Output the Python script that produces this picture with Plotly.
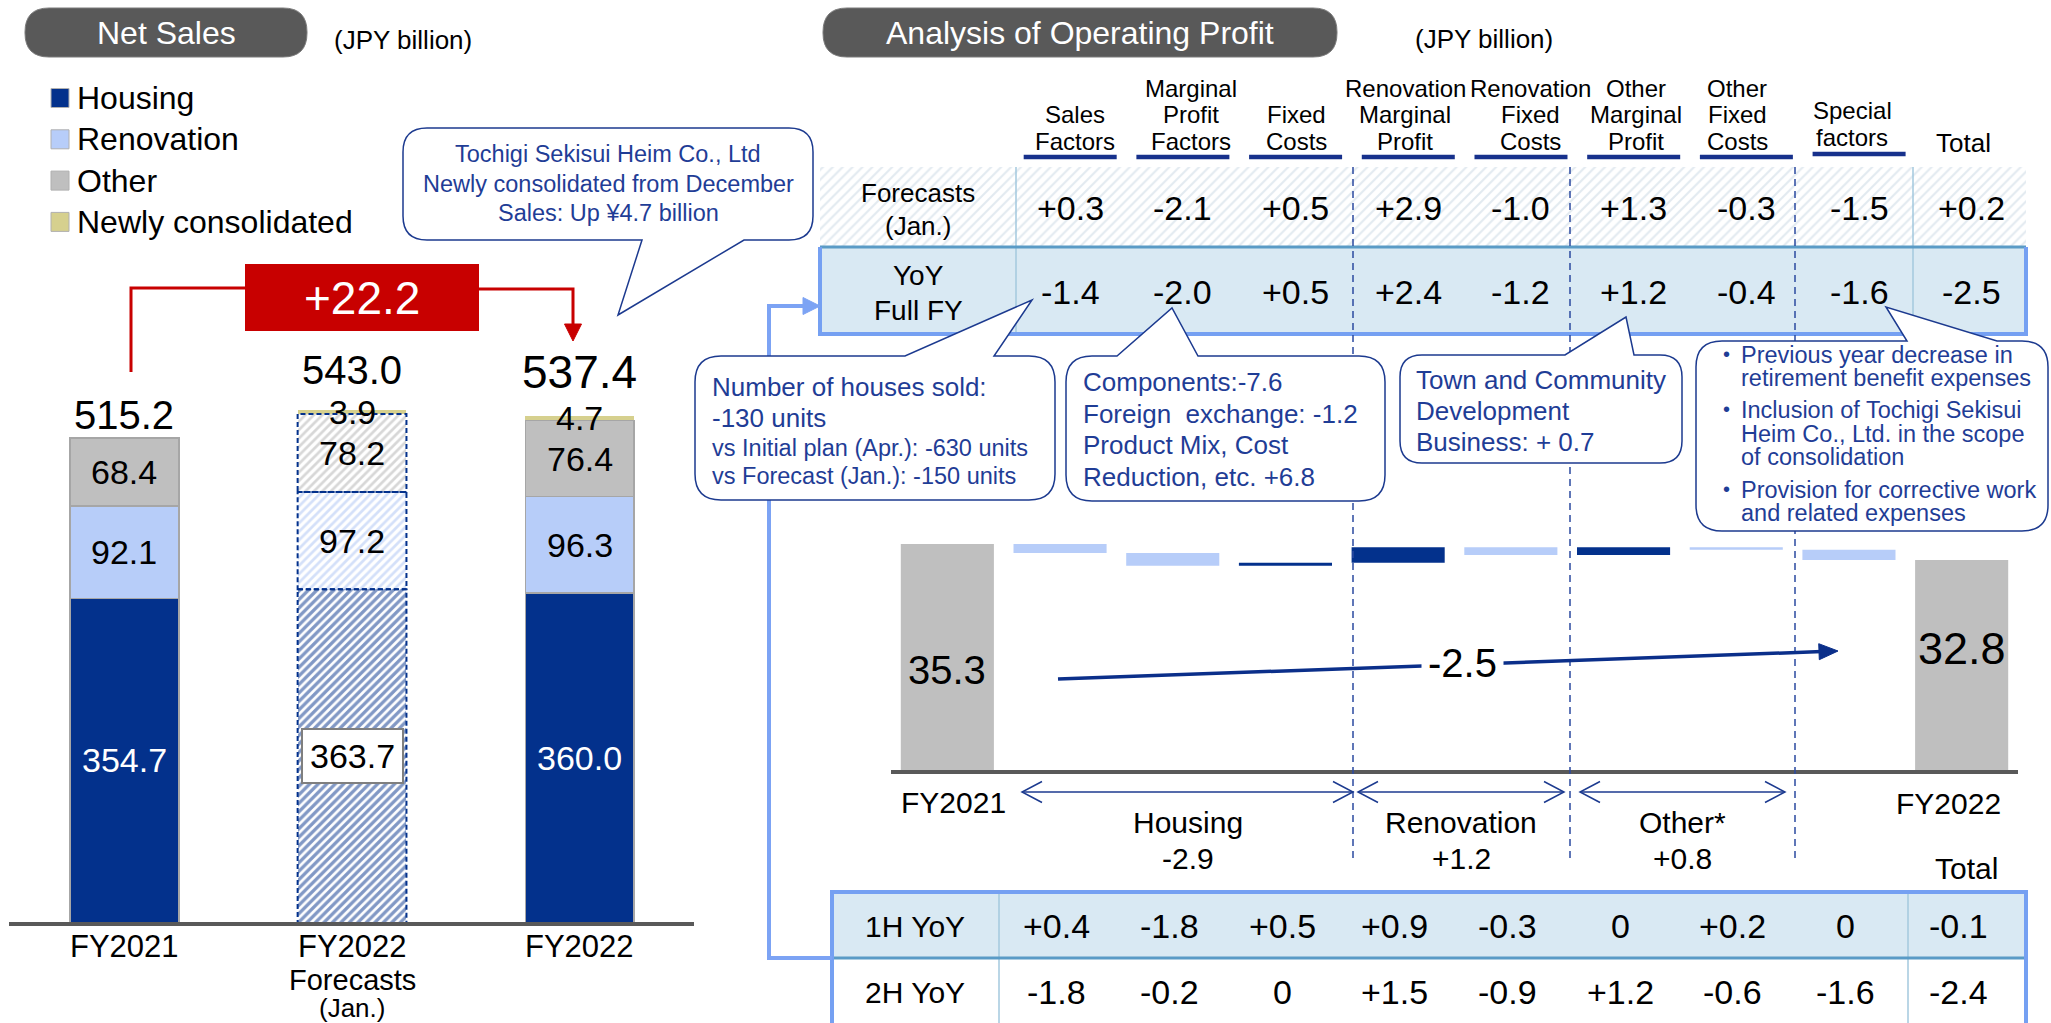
import math
import plotly.graph_objects as go

W, H = 2051, 1023
FONT = "Liberation Sans, Arial, Helvetica, sans-serif"

NAVY = "#03318c"
LIGHT_BLUE = "#b7cdf9"
GRAY = "#bfbfbf"
KHAKI = "#d6d08e"
ROW_FILL = "#d9e9f3"
BORDER_BLUE = "#75a0f2"
TEAL = "#5a9bc6"
DIVIDER = "#a3c8de"
TEXT_NAVY = "#1f3d96"
LINE_NAVY = "#1c3a8f"
RED = "#c80000"
PILL = "#595959"

# ---------------- Net sales (JPY billion) ----------------
sales_cats = ["FY2021", "FY2022 Forecasts (Jan.)", "FY2022"]
sales_cat_lines = [["FY2021"], ["FY2022", "Forecasts", "(Jan.)"], ["FY2022"]]
sales_housing = [354.7, 363.7, 360.0]
sales_renovation = [92.1, 97.2, 96.3]
sales_other = [68.4, 78.2, 76.4]
sales_newly = [0.0, 3.9, 4.7]
sales_total = [515.2, 543.0, 537.4]
sales_change = 22.2
legend_names = ["Housing", "Renovation", "Other", "Newly consolidated"]

# ---------------- Operating profit analysis (JPY billion) ----------------
op_headers = [["Sales", "Factors"], ["Marginal", "Profit", "Factors"], ["Fixed", "Costs"],
              ["Renovation", "Marginal", "Profit"], ["Renovation", "Fixed", "Costs"],
              ["Other", "Marginal", "Profit"], ["Other", "Fixed", "Costs"],
              ["Special", "factors"], ["Total"]]
op_start = 35.3
op_start_label = "FY2021"
op_end_label = "FY2022"
op_yoy_full = [-1.4, -2.0, 0.5, 2.4, -1.2, 1.2, -0.4, -1.6]
op_yoy_total = -2.5
op_forecast = [0.3, -2.1, 0.5, 2.9, -1.0, 1.3, -0.3, -1.5]
op_forecast_total = 0.2
op_1h = [0.4, -1.8, 0.5, 0.9, -0.3, 0.0, 0.2, 0.0]
op_1h_total = -0.1
op_2h = [-1.8, -0.2, 0.0, 1.5, -0.9, 1.2, -0.6, -1.6]
op_2h_total = -2.4
segment_names = ["Housing", "Renovation", "Other*"]
segment_values = [-2.9, 1.2, 0.8]


def fmt(v):
    return "0" if v == 0 else f"{v:+.1f}"


fig = go.Figure()
shapes = []
annots = []

# ---------- pixel helpers for the decorative canvas axis (x3/y3) ----------
X2_0, X2_1 = 891.0, 2018.0


def wx(v):
    return X2_0 + (v + 0.5) * (X2_1 - X2_0) / 10.0


def line(x0, y0, x1, y1, color, width, dash=None):
    shapes.append(dict(type="line", xref="x3", yref="y3", x0=x0, y0=y0, x1=x1, y1=y1,
                       line=dict(color=color, width=width, dash=dash), layer="above"))


def path(d, fill=None, color=None, width=0, dash=None):
    shapes.append(dict(type="path", xref="x3", yref="y3", path=d,
                       fillcolor=fill if fill else "rgba(0,0,0,0)",
                       line=dict(color=color if color else "rgba(0,0,0,0)", width=width, dash=dash),
                       layer="above"))


def rect(x0, y0, x1, y1, fill, color=None, width=0):
    shapes.append(dict(type="rect", xref="x3", yref="y3", x0=x0, y0=y0, x1=x1, y1=y1,
                       fillcolor=fill, line=dict(color=color if color else "rgba(0,0,0,0)", width=width),
                       layer="above"))


def tri(tx, ty, dx, dy, length, width, color):
    n = math.hypot(dx, dy)
    ux, uy = dx / n, dy / n
    bx, by = tx - ux * length, ty - uy * length
    px, py = -uy * width / 2, ux * width / 2
    path(f"M{tx},{ty} L{bx+px},{by+py} L{bx-px},{by-py} Z", fill=color, color=color, width=1)


def rbox(x0, y0, x1, y1, r, tail=None):
    p = [f"M{x0+r},{y0}"]
    if tail and tail[0] == "top":
        _, a, b, tx, ty = tail
        p += [f"L{a},{y0}", f"L{tx},{ty}", f"L{b},{y0}"]
    p += [f"L{x1-r},{y0}", f"Q{x1},{y0} {x1},{y0+r}", f"L{x1},{y1-r}", f"Q{x1},{y1} {x1-r},{y1}"]
    if tail and tail[0] == "bottom":
        _, a, b, tx, ty = tail
        p += [f"L{max(a, b)},{y1}", f"L{tx},{ty}", f"L{min(a, b)},{y1}"]
    p += [f"L{x0+r},{y1}", f"Q{x0},{y1} {x0},{y1-r}", f"L{x0},{y0+r}", f"Q{x0},{y0} {x0+r},{y0}", "Z"]
    return " ".join(p)


def txt(x, y, s, size, color="black", xanchor="center", xref="x3", yref="y3", **kw):
    annots.append(dict(x=x, y=y, xref=xref, yref=yref, text=s, showarrow=False,
                       font=dict(size=size, color=color, family=FONT),
                       xanchor=xanchor, yanchor="middle", **kw))


# ================= Net sales stacked bars =================
bar_w = 0.478
act = [0, 2]
fc = [1]


def pick(arr, idx):
    return [arr[i] for i in idx]


outline = dict(color="#a6a6a6", width=1.5)
fig.add_trace(go.Bar(x=act, y=pick(sales_housing, act), width=bar_w, marker=dict(color=NAVY, line=outline),
                     name="Housing", hoverinfo="skip"))
fig.add_trace(go.Bar(x=fc, y=pick(sales_housing, fc), width=bar_w, name="Housing forecast", hoverinfo="skip",
                     marker=dict(color="white", line=dict(width=0),
                                 pattern=dict(shape="/", fgcolor=NAVY, bgcolor="white", size=6, solidity=0.55))))
fig.add_trace(go.Bar(x=act, y=pick(sales_renovation, act), width=bar_w, marker=dict(color=LIGHT_BLUE, line=outline),
                     name="Renovation", hoverinfo="skip"))
fig.add_trace(go.Bar(x=fc, y=pick(sales_renovation, fc), width=bar_w, name="Renovation forecast", hoverinfo="skip",
                     marker=dict(color="white", line=dict(width=0),
                                 pattern=dict(shape="/", fgcolor="#a9c2f4", bgcolor="white", size=6, solidity=0.45))))
fig.add_trace(go.Bar(x=act, y=pick(sales_other, act), width=bar_w, marker=dict(color=GRAY, line=outline),
                     name="Other", hoverinfo="skip"))
fig.add_trace(go.Bar(x=fc, y=pick(sales_other, fc), width=bar_w, name="Other forecast", hoverinfo="skip",
                     marker=dict(color="white", line=dict(width=0),
                                 pattern=dict(shape="/", fgcolor="#b0b0b0", bgcolor="white", size=6, solidity=0.45))))
fig.add_trace(go.Bar(x=[1, 2], y=pick(sales_newly, [1, 2]), width=bar_w, marker=dict(color=KHAKI, line=dict(width=0)),
                     name="Newly consolidated", hoverinfo="skip"))

Y_FLOOR = 31.0
# dashed outlines around the forecast segments
lo = 0.0
for seg in (sales_housing, sales_renovation, sales_other):
    hi = lo + seg[1]
    shapes.append(dict(type="rect", xref="x", yref="y", x0=1 - bar_w / 2, x1=1 + bar_w / 2, y0=lo, y1=hi,
                       line=dict(color=NAVY, width=2, dash="5px,3px"), fillcolor="rgba(0,0,0,0)", layer="above"))
    lo = hi

# segment labels
for i in range(3):
    h, r, o, n = sales_housing[i], sales_renovation[i], sales_other[i], sales_newly[i]
    hmid = (Y_FLOOR + h) / 2
    if i == 1:
        annots.append(dict(x=i, y=hmid, xref="x", yref="y", text=f"{h:.1f}", showarrow=False,
                           font=dict(size=34, color="black", family=FONT), bgcolor="white",
                           bordercolor="#7f7f7f", borderwidth=2, borderpad=7, xanchor="center", yanchor="middle"))
    else:
        txt(i, hmid, f"{h:.1f}", 34, color="white", xref="x", yref="y")
    txt(i, h + r / 2, f"{r:.1f}", 34, xref="x", yref="y")
    txt(i, h + r + o / 2, f"{o:.1f}", 34, xref="x", yref="y")
    if n > 0:
        txt(i, h + r + o + n / 2, f"{n:.1f}", 34, xref="x", yref="y")
total_sizes = [40, 40, 46]
total_shift = [23, 40, 44]
cat_line_y = [946, 980, 1008]
cat_line_size = [31, 29, 26]
for i in range(3):
    txt(i, sales_total[i], f"{sales_total[i]:.1f}", total_sizes[i], xref="x", yref="y", yshift=total_shift[i])
    for k, ln in enumerate(sales_cat_lines[i]):
        txt(i, cat_line_y[k], ln, cat_line_size[k], xref="x", yref="y3", borderpad=0)

# ================= Operating profit waterfall =================
wf_x = list(range(10))
wf_measure = ["absolute"] + ["relative"] * len(op_yoy_full) + ["total"]
wf_y = [op_start] + op_yoy_full + [0]
fig.add_trace(go.Waterfall(x=wf_x, y=wf_y, measure=wf_measure, xaxis="x2", yaxis="y2", width=0.826,
                           increasing=dict(marker=dict(color=NAVY, line=dict(width=0))),
                           decreasing=dict(marker=dict(color=LIGHT_BLUE, line=dict(width=0))),
                           totals=dict(marker=dict(color=GRAY, line=dict(width=0))),
                           connector=dict(visible=False), textposition="none", hoverinfo="skip"))
op_end = op_start + sum(op_yoy_full)
txt(0, op_start / 2, f"{op_start:.1f}", 40, xref="x2", yref="y2", yshift=-13)
txt(9, op_end / 2, f"{op_end:.1f}", 45, xref="x2", yref="y2", yshift=17)

# ================= decorative canvas: hatched forecast row =================
fig.add_trace(go.Scatter(x=[820, 2026, 2026, 820, 820], y=[167, 167, 247, 247, 167], xaxis="x3", yaxis="y3",
                         mode="lines", fill="toself", fillcolor="white", line=dict(width=0),
                         fillpattern=dict(shape="/", fgcolor="#c6d5e2", bgcolor="white", size=7, solidity=0.3),
                         hoverinfo="skip"))

# ---- titles
path(rbox(25, 8, 307, 57, 24), fill=PILL, color="#7a7a7a", width=1)
txt(166, 33, "Net Sales", 32, color="white")
txt(332, 40, "(JPY billion)", 26, xanchor="left")
path(rbox(823, 8, 1337, 57, 24), fill=PILL, color="#7a7a7a", width=1)
txt(1080, 33, "Analysis of Operating Profit", 32, color="white")
txt(1413, 39, "(JPY billion)", 26, xanchor="left")

# ---- legend
legend_cols = [NAVY, LIGHT_BLUE, GRAY, KHAKI]
for k, (nm, col) in enumerate(zip(legend_names, legend_cols)):
    yc = 98 + 41.3 * k
    rect(51, yc - 9.5, 69, yc + 9.5, col, color="#b0b0b0", width=1)
    txt(75, yc, nm, 32, xanchor="left")

# ---- red change marker
path("M131,372 V288 H245", color=RED, width=3)
path("M479,289 H573 V326", color=RED, width=3)
tri(573, 341, 0, 1, 17, 17, RED)
rect(245, 264, 479, 331, RED)
txt(362, 298, fmt(sales_change), 46, color="white")

# ---- top table backgrounds and borders
rect(820, 247, 2026, 334, ROW_FILL)
for xv in (1016, 1913):
    line(xv, 167, xv, 334, DIVIDER, 1.5)
line(820, 247, 2026, 247, TEAL, 3)
line(820, 247, 820, 334, BORDER_BLUE, 4)
line(2026, 247, 2026, 334, BORDER_BLUE, 4)
line(818, 334, 2028, 334, BORDER_BLUE, 4)

# ---- bottom table backgrounds and borders
rect(832, 892, 2026, 958, ROW_FILL)
for xv in (999, 1908):
    line(xv, 892, xv, 1023, DIVIDER, 1.5)
line(832, 958, 2026, 958, TEAL, 3)
line(830, 892, 2028, 892, BORDER_BLUE, 4)
line(832, 892, 832, 1023, BORDER_BLUE, 4)
line(2026, 892, 2026, 1023, BORDER_BLUE, 4)

# ---- group dividers
for xv in (1353, 1570, 1795):
    line(xv, 167, xv, 862, "#2b4aa0", 1.5, dash="7px,5px")

# ---- connector from full-year row to half-year rows
path("M832,958 H769 V306 H804", color="#7ca3f4", width=4)
tri(820, 306, 1, 0, 17, 17, "#7ca3f4")

# ---- header underlines and labels
header_nudge = [5, 8, 1, -3, 10, 2, -9, -7, -8]
for j, lines in enumerate(op_headers):
    xc = wx(j + 1.09) + header_nudge[j]
    last_y = 137 if lines[0] == "Special" else 141
    if lines == ["Total"]:
        last_y = 143
    for k, ln in enumerate(lines):
        txt(xc, last_y - 26.5 * (len(lines) - 1 - k), ln, 24 if ln != "Total" else 26)
    if j < len(op_headers) - 1:
        uy = 154 if lines[0] == "Special" else 157
        line(wx(j + 1.09) - 46.5, uy, wx(j + 1.09) + 46.5, uy, "#17318c", 4.5)

# ---- top table values
txt(918, 193, "Forecasts", 26)
txt(918, 226, "(Jan.)", 26)
txt(918, 275, "YoY", 28)
txt(918, 310, "Full FY", 28)
for j, v in enumerate(op_forecast + [op_forecast_total]):
    txt(j + 1.09, 208, fmt(v), 34, xref="x2", yref="y3")
for j, v in enumerate(op_yoy_full + [op_yoy_total]):
    txt(j + 1.09, 292, fmt(v), 34, xref="x2", yref="y3")

# ---- bottom table values
txt(915, 926, "1H YoY", 30)
txt(915, 992, "2H YoY", 30)
for j, v in enumerate(op_1h + [op_1h_total]):
    txt(j + 0.97, 926, fmt(v), 34, xref="x2", yref="y3")
for j, v in enumerate(op_2h + [op_2h_total]):
    txt(j + 0.97, 992, fmt(v), 34, xref="x2", yref="y3")

# ---- segment double arrows and labels under the waterfall
seg_spans = [(1022, 1353), (1358, 1564), (1580, 1785)]
for (xa, xb), nm, v in zip(seg_spans, segment_names, segment_values):
    line(xa, 792, xb, 792, LINE_NAVY, 1.5)
    path(f"M{xa+20},{781.5} L{xa},{792} L{xa+20},{802.5}", color=LINE_NAVY, width=1.5)
    path(f"M{xb-20},{781.5} L{xb},{792} L{xb-20},{802.5}", color=LINE_NAVY, width=1.5)
    txt((xa + xb) / 2, 822, nm, 30)
    txt((xa + xb) / 2, 858, fmt(v), 30)
txt(0, 802, op_start_label, 30, xref="x2", yref="y3", xshift=6)
txt(9, 803, op_end_label, 30, xref="x2", yref="y3", xshift=-13)
txt(1966, 868, "Total", 30)

# ---- overall change arrow
line(1058, 679, 1822, 651.6, "#0b2f8a", 3.5)
tri(1838, 651, 780, -28, 19, 16, "#0b2f8a")
txt(1462, 663, fmt(op_yoy_total), 40, bgcolor="white", borderpad=6)

# ---- callouts
path(rbox(403, 128, 813, 240, 24, ("bottom", 642, 744, 618, 315)), fill="white", color=LINE_NAVY, width=1.5)
for k, s in enumerate(["Tochigi Sekisui Heim Co., Ltd", "Newly consolidated from December",
                       "Sales: Up \u00a54.7 billion"]):
    txt(608, 154 + 29.5 * k, s, 23.5, color=TEXT_NAVY)

path(rbox(695, 356, 1055, 500, 26, ("top", 905, 994, 1032, 300)), fill="white", color=LINE_NAVY, width=1.5)
for s, yv, sz in [("Number of houses sold:", 387, 26), ("-130 units", 418, 26),
                  ("vs Initial plan (Apr.): -630 units", 448, 23.5), ("vs Forecast (Jan.): -150 units", 476, 23.5)]:
    txt(710, yv, s, sz, color=TEXT_NAVY, xanchor="left")

path(rbox(1066, 356, 1385, 501, 26, ("top", 1117, 1198, 1172, 308)), fill="white", color=LINE_NAVY, width=1.5)
for k, s in enumerate(["Components:-7.6", "Foreign\u00a0 exchange: -1.2", "Product Mix, Cost",
                       "Reduction, etc. +6.8"]):
    txt(1081, 382 + 31.7 * k, s, 26, color=TEXT_NAVY, xanchor="left")

path(rbox(1400, 355, 1682, 463, 22, ("top", 1565, 1634, 1626, 317)), fill="white", color=LINE_NAVY, width=1.5)
for k, s in enumerate(["Town and Community", "Development", "Business: + 0.7"]):
    txt(1414, 380 + 31 * k, s, 26, color=TEXT_NAVY, xanchor="left")

path(rbox(1696, 341, 2048, 531, 26, ("top", 1907, 1997, 1886, 307)), fill="white", color=LINE_NAVY, width=1.5)
bullet_lines = [("Previous year decrease in", 355, True), ("retirement benefit expenses", 378, False),
                ("Inclusion of Tochigi Sekisui", 410, True), ("Heim Co., Ltd. in the scope", 434, False),
                ("of consolidation", 457, False), ("Provision for corrective work", 490, True),
                ("and related expenses", 513, False)]
for s, yv, b in bullet_lines:
    if b:
        txt(1726, yv - 1, "\u2022", 20, color=TEXT_NAVY)
    txt(1739, yv, s, 23.5, color=TEXT_NAVY, xanchor="left")

fig.update_layout(
    width=W, height=H, autosize=False,
    margin=dict(l=0, r=0, t=0, b=0, pad=0),
    paper_bgcolor="white", plot_bgcolor="rgba(0,0,0,0)",
    font=dict(family=FONT, color="black"),
    barmode="stack", showlegend=False,
    xaxis=dict(domain=[9.4 / W, 694 / W], range=[-0.505, 2.502], anchor="y", showline=True, linecolor="#595959",
               linewidth=4, showgrid=False, zeroline=False, showticklabels=False, ticks="", fixedrange=True),
    yaxis=dict(domain=[1 - 922 / H, 1 - 100 / H], range=[Y_FLOOR, 853], anchor="x", visible=False, fixedrange=True),
    xaxis2=dict(domain=[X2_0 / W, X2_1 / W], range=[-0.5, 9.5], anchor="y2", showline=True, linecolor="#595959",
                linewidth=4, showgrid=False, zeroline=False, showticklabels=False, ticks="", fixedrange=True),
    yaxis2=dict(domain=[1 - 770 / H, 1 - 530 / H], range=[0, 37.5], anchor="x2", visible=False, fixedrange=True),
    xaxis3=dict(domain=[0, 1], range=[0, W], anchor="y3", visible=False, fixedrange=True),
    yaxis3=dict(domain=[0, 1], range=[H, 0], anchor="x3", visible=False, fixedrange=True),
    shapes=shapes,
    annotations=annots,
)

fig.write_html("out.html")
